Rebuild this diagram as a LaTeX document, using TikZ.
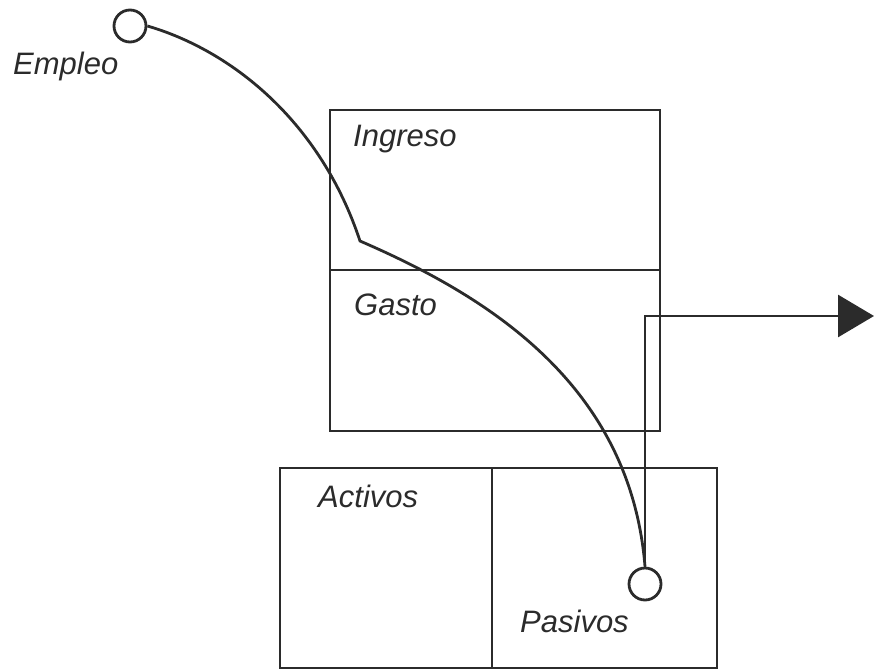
\documentclass[tikz,border=0pt]{standalone}
\usepackage{fontspec}
\setmainfont{Liberation Sans}
\usetikzlibrary{arrows.meta}
\definecolor{ink}{HTML}{2B2B2B}
\begin{document}
\begin{tikzpicture}[x=1pt,y=-1pt,
  ln/.style={line width=2.8pt, draw=ink},
  lbl/.style={anchor=base west, inner sep=0pt, text=ink, font=\fontsize{31}{37}\selectfont\itshape},
  port/.style={circle, draw=ink, line width=2.8pt, minimum size=32pt, inner sep=0pt, fill=white}]
\useasboundingbox (0,0) rectangle (874,671);
% boxes
\draw[ln] (330,110) rectangle (660,431);
\draw[ln] (330,270) -- (660,270);
\draw[ln] (280,468) rectangle (717,668);
\draw[ln] (492,468) -- (492,668);
% labels
\node[lbl] (empleo) at (13,75) {Empleo};
\node[lbl] (ingreso) at (353,147) {Ingreso};
\node[lbl] (gasto) at (354,315) {Gasto};
\node[lbl] (activos) at (318,507) {Activos};
\node[lbl] (pasivos) at (520,632) {Pasivos};
% ports
\node[port] (c1) at (130,26) {};
\node[port] (c2) at (645,584) {};
\coordinate (k) at (360,241);
\coordinate (tip) at (874,316);
% curves
\draw[ln] (c1.east) .. controls (230,50) and (320,120) .. (k)
      .. controls (480,293) and (630,380) .. (c2.north);
% arrow
\draw[ln,-{Triangle[length=36pt,width=42pt]}] (c2.north) |- (tip);
\end{tikzpicture}
\end{document}
